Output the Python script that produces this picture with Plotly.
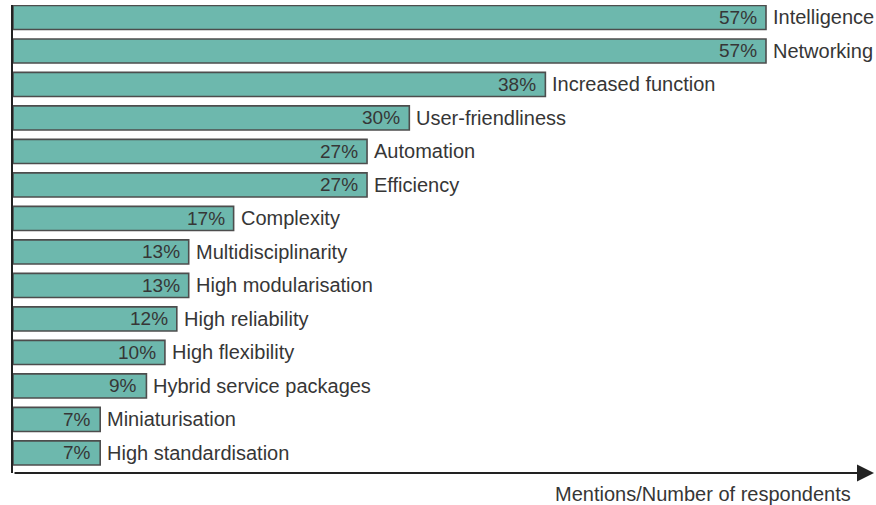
import plotly.graph_objects as go

categories = ["Intelligence", "Networking", "Increased function", "User-friendliness",
              "Automation", "Efficiency", "Complexity", "Multidisciplinarity",
              "High modularisation", "High reliability", "High flexibility",
              "Hybrid service packages", "Miniaturisation", "High standardisation"]
# bar lengths as drawn
bar_lengths = [57, 57, 40.3, 30.0, 26.8, 26.8, 16.7, 13.3, 13.3, 12.4, 11.5, 10.1, 6.6, 6.6]
# printed labels
pct_labels = ["57%", "57%", "38%", "30%", "27%", "27%", "17%", "13%", "13%", "12%",
              "10%", "9%", "7%", "7%"]
x_title = "Mentions/Number of respondents"

W, H = 876, 505
L, R, T, B = 13, 2, 5, 32
pw, ph = W - L - R, H - T - B
px_per_unit = (766 - 13) / 57.0
x_max = pw / px_per_unit
y_pos = list(range(len(categories)))
y_top, y_bot = -0.373, 13.6

fig = go.Figure()
fig.add_trace(go.Bar(
    x=bar_lengths, y=y_pos, orientation="h", width=0.72,
    marker=dict(color="#6db8ad", line=dict(color="#4d4d4d", width=1.6)),
    hoverinfo="skip",
))

annotations = []
font = "Liberation Sans, Arial, sans-serif"
for v, yv, lab, cat in zip(bar_lengths, y_pos, pct_labels, categories):
    annotations.append(dict(x=v, y=yv, xref="x", yref="y", text=lab, showarrow=False,
                            xanchor="right", yanchor="middle", xshift=-7,
                            font=dict(family=font, size=19, color="#363636")))
    annotations.append(dict(x=v, y=yv, xref="x", yref="y", text=cat, showarrow=False,
                            xanchor="left", yanchor="middle", xshift=5,
                            font=dict(family=font, size=20, color="#363636")))

# x axis with arrow
annotations.append(dict(x=x_max, y=y_bot, xref="x", yref="y", ax=0, ay=y_bot,
                        axref="x", ayref="y", text="", showarrow=True,
                        arrowhead=2, arrowsize=1.7, arrowwidth=2, arrowcolor="#222222",
                        standoff=0, startstandoff=0))
annotations.append(dict(x=(853 - L) / pw, y=(H - B - 494) / ph, xref="paper", yref="paper",
                        text=x_title, showarrow=False, xanchor="right", yanchor="middle",
                        font=dict(family=font, size=20, color="#363636")))

fig.update_layout(
    annotations=annotations,
    width=W, height=H, margin=dict(l=L, r=R, t=T, b=B),
    paper_bgcolor="white", plot_bgcolor="white", showlegend=False,
    xaxis=dict(range=[0, x_max], visible=False, fixedrange=True),
    yaxis=dict(range=[y_bot, y_top], showgrid=False, zeroline=False,
               showticklabels=False, ticks="", showline=True, linecolor="#222222",
               linewidth=2, fixedrange=True),
)
fig.write_html("out.html", config={"displayModeBar": False},
               post_script="document.body.style.margin='0';document.body.style.overflow='hidden';")
